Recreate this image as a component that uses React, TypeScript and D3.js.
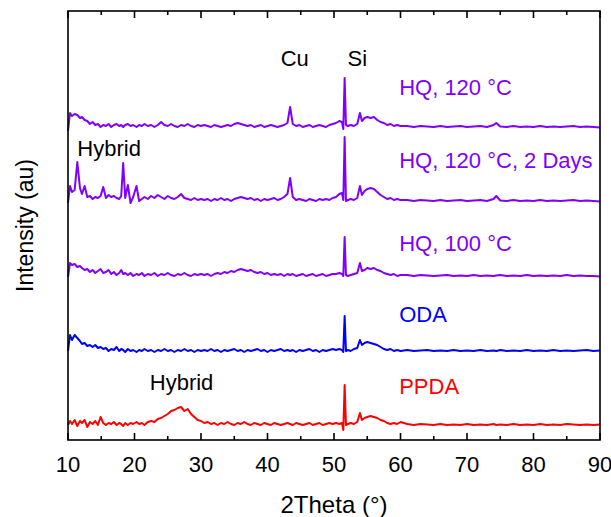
import React from "react";
import * as d3 from "d3";

// 2theta grid shared by all scans (denser around the sharp peaks)
const twoTheta = [
  10, 10.3, 10.6, 11, 11.4, 11.8, 12.1, 12.5, 12.9, 13.3, 13.7, 14.1,
  14.5, 14.9, 15.3, 15.7, 16.1, 16.5, 16.9, 17.3, 17.7, 18, 18.3, 18.6,
  19, 19.4, 19.8, 20.3, 20.7, 21.1, 21.5, 22, 22.5, 23, 23.5, 24,
  24.5, 25, 25.5, 26, 26.5, 27, 27.5, 28, 28.5, 29, 29.5, 30,
  30.5, 31, 31.5, 32, 32.5, 33, 33.5, 34, 34.5, 35, 35.5, 36,
  36.5, 37, 37.5, 38, 38.5, 39, 39.5, 40, 40.5, 41, 41.5, 42, 42.5,
  43, 43.4, 43.8, 44.3, 44.8, 45.3, 45.8, 46.3, 46.8, 47.3, 47.8, 48.3, 48.8, 49.3, 49.8, 50.3, 50.8,
  51.2, 51.4, 51.6, 51.8, 52.1, 52.5, 53, 53.5, 53.9, 54.2, 54.6, 55, 55.5, 56, 56.5, 57, 57.5, 58, 58.5, 59, 59.5, 60,
  61, 62, 63, 64, 65, 66, 67, 68, 69, 70, 71, 72, 73, 74, 74.4,
  75, 76, 77, 78, 79, 80, 81, 82, 83, 84, 85, 86, 87, 88, 89, 90,
];

const hq120 = [
  18, 54, 48, 52, 50, 44, 46, 40, 38, 32, 36, 30,
  32, 26, 30, 28, 32, 26, 30, 32, 28, 30, 26, 30,
  32, 28, 30, 26, 30, 28, 32, 28, 30, 26, 30, 36,
  30, 28, 32, 28, 26, 30, 28, 32, 28, 26, 30, 28,
  30, 28, 26, 30, 28, 26, 28, 30, 28, 32, 34, 32,
  30, 28, 30, 26, 28, 30, 26, 28, 30, 28, 26, 28, 30,
  34, 66, 32, 28, 30, 26, 28, 30, 26, 28, 30, 28, 26, 30, 32, 34, 38,
  36, 22, 124, 30, 28, 30, 28, 32, 54, 38, 44, 46, 44, 46, 40, 36, 34, 30, 32, 28, 30, 28,
  28, 26, 28, 27, 26, 28, 26, 27, 28, 26, 27, 28, 26, 30, 34,
  27, 26, 28, 26, 27, 26, 28, 26, 27, 26, 27, 28, 26, 27, 26, 25,
];

const hq120Days = [
  24, 58, 46, 50, 106, 54, 42, 58, 36, 38, 32, 36,
  34, 38, 56, 34, 40, 36, 38, 34, 32, 38, 104, 34,
  60, 24, 36, 58, 28, 32, 36, 32, 38, 34, 40, 36,
  32, 38, 34, 32, 36, 42, 34, 32, 30, 34, 30, 32,
  30, 32, 28, 32, 30, 34, 30, 32, 28, 32, 34, 36,
  34, 32, 34, 30, 32, 28, 32, 30, 32, 34, 30, 32, 36,
  42, 74, 36, 30, 32, 30, 28, 32, 30, 28, 32, 30, 32, 30, 34, 36, 42,
  44, 30, 156, 28, 30, 32, 30, 34, 58, 40, 48, 52, 54, 52, 46, 40, 36, 32, 34, 30, 32, 30,
  30, 28, 30, 29, 28, 30, 28, 29, 30, 28, 29, 30, 28, 32, 38,
  29, 28, 30, 28, 29, 28, 30, 28, 29, 28, 29, 30, 28, 29, 28, 27,
];

const hq100 = [
  26, 54, 50, 52, 46, 48, 44, 40, 42, 36, 40, 34,
  38, 42, 34, 36, 40, 32, 36, 30, 34, 40, 32, 34,
  30, 34, 28, 32, 30, 34, 28, 32, 30, 34, 28, 32,
  30, 34, 30, 28, 32, 30, 34, 30, 28, 32, 30, 32,
  30, 32, 28, 32, 34, 32, 36, 34, 38, 36, 40, 42,
  40, 38, 40, 36, 34, 36, 32, 34, 30, 32, 30, 32, 28,
  32, 30, 32, 28, 30, 32, 28, 30, 32, 28, 30, 32, 28, 30, 32, 32, 34,
  32, 28, 106, 30, 28, 30, 32, 34, 54, 38, 40, 44, 42, 44, 40, 38, 34, 32, 30, 32, 28, 30,
  30, 28, 30, 29, 28, 29, 30, 28, 29, 28, 30, 28, 29, 28, 29,
  30, 28, 29, 28, 30, 28, 29, 28, 29, 28, 30, 28, 29, 28, 28, 27,
];

const oda = [
  28, 60, 50, 60, 54, 48, 42, 44, 38, 40, 36, 40,
  34, 36, 32, 34, 28, 32, 30, 36, 28, 32, 30, 26,
  32, 28, 30, 26, 30, 28, 32, 28, 30, 26, 30, 28,
  32, 28, 30, 26, 30, 28, 32, 28, 30, 26, 30, 28,
  30, 28, 32, 28, 30, 26, 30, 28, 30, 32, 28, 30,
  26, 30, 28, 30, 32, 28, 30, 26, 30, 28, 30, 32, 28,
  30, 28, 30, 26, 30, 28, 30, 32, 28, 30, 26, 30, 28, 30, 32, 30, 32,
  30, 26, 98, 28, 30, 28, 32, 34, 50, 40, 44, 46, 44, 42, 40, 36, 32, 30, 32, 28, 30, 28,
  30, 28, 29, 30, 28, 29, 28, 30, 28, 29, 28, 30, 28, 29, 28,
  30, 28, 29, 28, 30, 28, 29, 28, 30, 28, 29, 28, 29, 30, 28, 29,
];

const ppda = [
  30, 38, 32, 40, 28, 38, 34, 40, 26, 36, 32, 38,
  30, 46, 34, 30, 34, 32, 36, 30, 34, 32, 28, 34,
  30, 34, 32, 36, 32, 34, 30, 36, 38, 36, 42, 44,
  48, 52, 58, 60, 64, 66, 58, 62, 52, 46, 40, 38,
  34, 36, 32, 34, 30, 34, 32, 36, 32, 30, 34, 32,
  36, 32, 30, 34, 32, 30, 34, 32, 30, 34, 32, 30, 32,
  34, 32, 30, 34, 32, 30, 32, 34, 30, 32, 34, 30, 32, 34, 32, 34, 32,
  34, 20, 110, 30, 32, 34, 32, 36, 54, 40, 44, 46, 48, 46, 44, 40, 38, 34, 32, 34, 32, 36,
  32, 30, 32, 31, 30, 32, 30, 31, 30, 32, 30, 31, 30, 32, 30,
  31, 30, 32, 30, 31, 30, 32, 30, 31, 30, 32, 31, 30, 31, 30, 31,
];

const seriesNames = ["PPDA", "ODA", "HQ, 120 \u00B0C", "HQ, 120 \u00B0C, 2 Days", "HQ, 100 \u00B0C"];
const majorTicks = [10, 20, 30, 40, 50, 60, 70, 80, 90];
const minorTicks = [15, 25, 35, 45, 55, 65, 75, 85];

const W = 611;
const H = 517;
const left = 68;
const right = 600;
const top = 11;
const bottom = 440;
const font = "'Liberation Sans', Arial, Helvetica, sans-serif";
const violet = "#8000ff";

const traces = [
  { values: ppda, offset: 0, color: "#ff0000" },
  { values: oda, offset: 150, color: "#0000ff" },
  { values: hq100, offset: 300, color: violet },
  { values: hq120Days, offset: 450, color: violet },
  { values: hq120, offset: 600, color: violet },
];

// annotation anchors given in data units (2theta, stacked intensity)
const notes = [
  { text: "Cu", x: 44.1, y: 748, anchor: "middle", color: "#000" },
  { text: "Si", x: 53.5, y: 748, anchor: "middle", color: "#000" },
  { text: seriesNames[2], x: 59.8, y: 690, anchor: "start", color: violet },
  { text: "Hybrid", x: 11.4, y: 568, anchor: "start", color: "#000" },
  { text: seriesNames[3], x: 59.8, y: 544, anchor: "start", color: violet },
  { text: seriesNames[4], x: 59.8, y: 378, anchor: "start", color: violet },
  { text: seriesNames[1], x: 59.8, y: 236, anchor: "start", color: "#0000ff" },
  { text: "Hybrid", x: 22.3, y: 100, anchor: "start", color: "#000" },
  { text: seriesNames[0], x: 59.8, y: 92, anchor: "start", color: "#ff0000" },
];

export default function App() {
  const x = d3.scaleLinear().domain([10, 90]).range([left, right]);
  const y = d3.scaleLinear().domain([0, 858]).range([bottom, top]);

  const makeLine = (offset: number) =>
    d3
      .line<number>()
      .x((_, i) => x(twoTheta[i]))
      .y((d) => y(d + offset));

  return (
    <svg
      width={W}
      height={H}
      style={{ position: "absolute", left: 0, top: 0, background: "#fff" }}
      fontFamily={font}
    >
      {traces.map((t, i) => (
        <path
          key={i}
          d={makeLine(t.offset)(t.values) || ""}
          fill="none"
          stroke={t.color}
          strokeWidth={2}
          strokeLinejoin="round"
        />
      ))}

      {notes.map((n, i) => (
        <text key={i} x={x(n.x)} y={y(n.y)} textAnchor={n.anchor as any} fill={n.color} fontSize={22}>
          {n.text}
        </text>
      ))}

      {/* frame */}
      <rect x={left} y={top} width={right - left} height={bottom - top} fill="none" stroke="#000" strokeWidth={1.6} />

      {majorTicks.map((t) => (
        <g key={"M" + t}>
          <line x1={x(t)} x2={x(t)} y1={bottom} y2={bottom - 7} stroke="#000" strokeWidth={1.6} />
          <line x1={x(t)} x2={x(t)} y1={top} y2={top + 7} stroke="#000" strokeWidth={1.6} />
          <text x={x(t)} y={472} textAnchor="middle" fontSize={22} fill="#000">
            {t}
          </text>
        </g>
      ))}
      {minorTicks.map((t) => (
        <g key={"m" + t}>
          <line x1={x(t)} x2={x(t)} y1={bottom} y2={bottom - 4} stroke="#000" strokeWidth={1.6} />
          <line x1={x(t)} x2={x(t)} y1={top} y2={top + 4} stroke="#000" strokeWidth={1.6} />
        </g>
      ))}

      <text x={(left + right) / 2} y={513} textAnchor="middle" fontSize={24} fill="#000">
        2Theta (°)
      </text>
      <text
        transform={`translate(33, ${(top + bottom) / 2}) rotate(-90)`}
        textAnchor="middle"
        fontSize={23}
        fill="#000"
      >
        Intensity (au)
      </text>
    </svg>
  );
}
